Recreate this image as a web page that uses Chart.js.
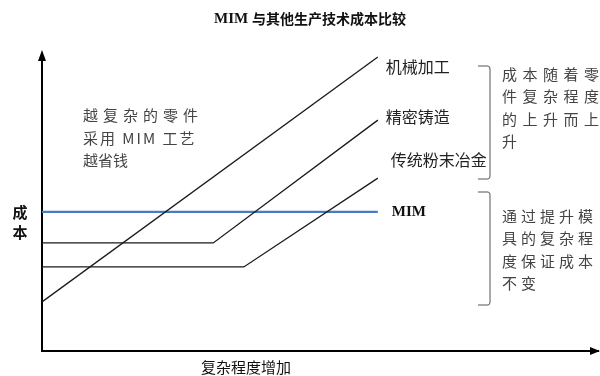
<!DOCTYPE html>
<html>
<head>
    <meta charset="utf-8">
    <title>MIM 与其他生产技术成本比较</title>
    <script src="https://cdn.jsdelivr.net/npm/chart.js@4/dist/chart.umd.min.js"></script>
    <style>
        body { margin: 0; background: #fff; }
    </style>
</head>
<body>
    <canvas id="myChart" width="600" height="376"></canvas>

    <script>
        // complexity (x) and cost (y) in arbitrary 0..100 units
        var machiningX = [0, 60.4];
        var machiningY = [16.6, 99.3];
        var castingX = [0, 30.8, 60.4];
        var castingY = [36.5, 36.5, 78.0];
        var powderX = [0, 36.3, 60.4];
        var powderY = [28.4, 28.4, 58.4];
        var mimX = [0, 60.4];
        var mimY = [47.0, 47.0];

        var seriesNames = ['机械加工', '精密铸造', '传统粉末冶金', 'MIM'];
        var noteLeft = ['越复杂的零件', '采用 MIM 工艺', '越省钱'];
        var noteRise = ['成本随着零', '件复杂程度', '的上升而上', '升'];
        var noteFlat = ['通过提升模', '具的复杂程', '度保证成本', '不变'];

        var cjk = "'Noto Sans CJK SC', sans-serif";
        var serif = "'Liberation Serif', 'Noto Sans CJK SC', serif";

        function toPoints(xs, ys) {
            return xs.map(function (x, i) { return { x: x, y: ys[i] }; });
        }

        function drawSpaced(c, text, x, y, step) {
            var cx = x;
            for (var i = 0; i < text.length; i++) {
                c.fillText(text[i], cx, y);
                cx += step;
            }
        }

        function bracket(c, x, top, bottom) {
            c.beginPath();
            c.moveTo(x - 12, top);
            c.lineTo(x - 2, top);
            c.quadraticCurveTo(x, top, x, top + 3);
            c.lineTo(x, bottom - 3);
            c.quadraticCurveTo(x, bottom, x - 2, bottom);
            c.lineTo(x - 12, bottom);
            c.stroke();
        }

        var decorations = {
            id: 'decorations',
            afterDraw: function (chart) {
                var c = chart.ctx;
                var a = chart.chartArea;
                var xs = chart.scales.x;
                var ys = chart.scales.y;
                c.save();

                // axis arrows
                c.fillStyle = '#000';
                c.beginPath();
                c.moveTo(a.left, a.top - 5);
                c.lineTo(a.left - 4, a.top + 6);
                c.lineTo(a.left + 4, a.top + 6);
                c.closePath();
                c.fill();
                c.beginPath();
                c.moveTo(a.right + 2, a.bottom);
                c.lineTo(a.right - 8, a.bottom - 4);
                c.lineTo(a.right - 8, a.bottom + 4);
                c.closePath();
                c.fill();

                // title
                c.textBaseline = 'middle';
                c.textAlign = 'left';
                c.fillStyle = '#111';
                c.font = 'bold 15px ' + serif;
                var t1 = 'MIM ';
                var t2 = '与其他生产技术成本比较';
                var w1 = c.measureText(t1).width;
                c.font = 'bold 14px ' + cjk;
                var w2 = c.measureText(t2).width;
                var tx = 300 - (w1 + w2) / 2 + 10;
                c.font = 'bold 15px ' + serif;
                c.fillText(t1, tx, 19);
                c.font = 'bold 14px ' + cjk;
                c.fillText(t2, tx + w1, 19);

                // axis titles
                c.font = 'bold 15px ' + cjk;
                c.textAlign = 'center';
                c.fillText('成', 20, 212);
                c.fillText('本', 20, 232);
                c.font = '15px ' + cjk;
                c.fillText('复杂程度增加', 246, 367);

                // line labels anchored at line ends
                var endX = xs.getPixelForValue(machiningX[machiningX.length - 1]);
                c.textAlign = 'left';
                c.fillStyle = '#222';
                c.font = '16px ' + cjk;
                c.fillText(seriesNames[0], endX + 8, ys.getPixelForValue(machiningY[1]) + 10);
                c.fillText(seriesNames[1], endX + 8, ys.getPixelForValue(castingY[2]) - 3);
                c.fillText(seriesNames[2], endX + 13, ys.getPixelForValue(powderY[2]) - 18);
                c.font = 'bold 15px ' + serif;
                c.fillStyle = '#111';
                c.fillText(seriesNames[3], endX + 14, ys.getPixelForValue(mimY[1]));

                // left note
                c.fillStyle = '#444';
                c.font = '15px ' + cjk;
                drawSpaced(c, noteLeft[0], 83, 115, 20);
                c.letterSpacing = '2px';
                c.fillText(noteLeft[1], 83, 138);
                c.letterSpacing = '0px';
                c.fillText(noteLeft[2], 83, 160);

                // brackets
                c.strokeStyle = '#555';
                c.lineWidth = 1;
                bracket(c, 490, 66, 179);
                bracket(c, 490, 192, 305);

                // right notes
                c.fillStyle = '#444';
                for (var i = 0; i < noteRise.length; i++) {
                    drawSpaced(c, noteRise[i], 502, 74 + i * 22.5, 20.5);
                }
                for (var j = 0; j < noteFlat.length; j++) {
                    drawSpaced(c, noteFlat[j], 502, 216 + j * 22.5, 19);
                }
                c.restore();
            }
        };

        var ctx = document.getElementById('myChart').getContext('2d');
        var black = { borderColor: '#1a1a1a', borderWidth: 1.3, pointRadius: 0, fill: false, tension: 0 };

        var chart = new Chart(ctx, {
            type: 'line',
            data: {
                datasets: [
                    Object.assign({ label: seriesNames[0], data: toPoints(machiningX, machiningY) }, black),
                    Object.assign({ label: seriesNames[1], data: toPoints(castingX, castingY) }, black),
                    Object.assign({ label: seriesNames[2], data: toPoints(powderX, powderY) }, black),
                    { label: seriesNames[3], data: toPoints(mimX, mimY), borderColor: '#4a7bc0', borderWidth: 2.2, pointRadius: 0, fill: false }
                ]
            },
            options: {
                responsive: false,
                animation: false,
                layout: { padding: { left: 42, right: 2, top: 55, bottom: 25 } },
                plugins: {
                    legend: { display: false },
                    tooltip: { enabled: false }
                },
                scales: {
                    x: {
                        type: 'linear',
                        min: 0,
                        max: 100,
                        ticks: { display: false },
                        grid: { display: false, drawTicks: false },
                        border: { display: true, color: '#000', width: 2 },
                        afterFit: function (s) { s.height = 0; }
                    },
                    y: {
                        min: 0,
                        max: 100,
                        ticks: { display: false },
                        grid: { display: false, drawTicks: false },
                        border: { display: true, color: '#000', width: 2 },
                        afterFit: function (s) { s.width = 0; }
                    }
                }
            },
            plugins: [decorations]
        });
    </script>
</body>
</html>
